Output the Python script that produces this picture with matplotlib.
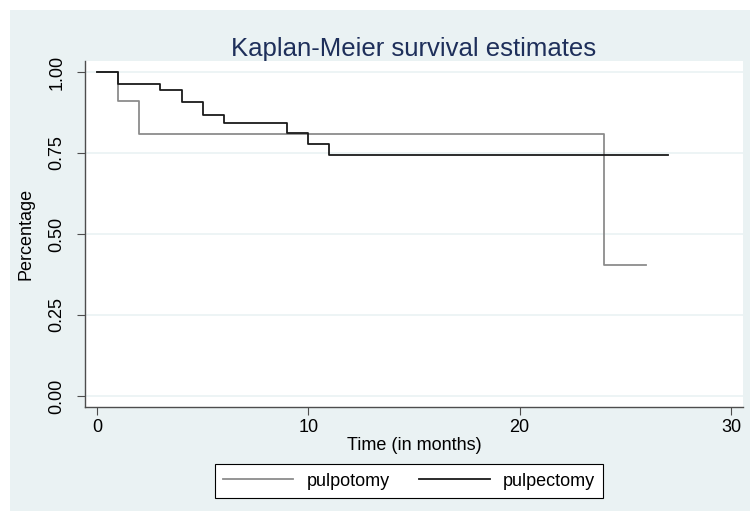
import numpy as np
import matplotlib
matplotlib.use("Agg")
import matplotlib.pyplot as plt
from matplotlib.patches import Rectangle

plt.rcParams['font.family'] = ['Liberation Sans', 'DejaVu Sans']

# Kaplan-Meier step data (time in months, survival)
pulpotomy_t = [0, 1, 2, 24, 26]
pulpotomy_s = [1.0, 0.909, 0.808, 0.404, 0.404]
pulpectomy_t = [0, 1, 3, 4, 5, 6, 9, 10, 11, 27]
pulpectomy_s = [1.0, 0.963, 0.944, 0.907, 0.867, 0.844, 0.811, 0.777, 0.743, 0.743]

xticks = [0, 10, 20, 30]
yticks = [0.00, 0.25, 0.50, 0.75, 1.00]
ytick_labels = ["0.00", "0.25", "0.50", "0.75", "1.00"]

bg = "#eaf2f3"

fig = plt.figure(figsize=(7.5, 5.14), dpi=100)
fig.patch.set_facecolor("white")
fig.patches.append(Rectangle((10 / 750, 3 / 514), 740 / 750, 501 / 514,
                             transform=fig.transFigure, facecolor=bg,
                             edgecolor="none", zorder=-10))

ax = fig.add_axes([85 / 750, 1 - 407 / 514, 658 / 750, 346 / 514])
ax.set_facecolor("white")

ax.step(pulpotomy_t, pulpotomy_s, where="post", color="#8c8c8c", lw=1.3,
        label="pulpotomy")
ax.step(pulpectomy_t, pulpectomy_s, where="post", color="#1a1a1a", lw=1.3,
        label="pulpectomy")

ax.set_xlim(-0.57, 30.57)
ax.set_ylim(-0.034, 1.034)
ax.set_xticks(xticks)
ax.set_yticks(yticks)
ax.set_yticklabels(ytick_labels, rotation=90, va="center")
ax.tick_params(axis="both", labelsize=13, length=6, width=0.8,
               color="#4d4d4d", labelcolor="black", direction="out")
ax.tick_params(axis="y", pad=8)
ax.tick_params(axis="x", pad=3)
ax.grid(axis="y", color=bg, linewidth=1.2)
ax.set_axisbelow(True)

for s in ["top", "right"]:
    ax.spines[s].set_visible(False)
for s in ["left", "bottom"]:
    ax.spines[s].set_color("#4d4d4d")
    ax.spines[s].set_linewidth(1.0)

ax.set_xlabel("Time (in months)", fontsize=13, labelpad=0)
ax.set_ylabel("Percentage", fontsize=13, labelpad=10)
ax.set_title("Kaplan-Meier survival estimates", fontsize=18.5,
             color="#1e2f5a", pad=1)

leg = fig.legend(loc="center", bbox_to_anchor=(409 / 750, 1 - 481 / 514),
                 ncol=2, fontsize=13, frameon=True, fancybox=False,
                 edgecolor="black", facecolor="white", framealpha=1,
                 handlelength=3.9, handletextpad=0.72, columnspacing=1.66,
                 borderpad=0.45, borderaxespad=0)
leg.get_frame().set_linewidth(0.8)

fig.savefig("out.png", dpi=100, facecolor=fig.get_facecolor())
